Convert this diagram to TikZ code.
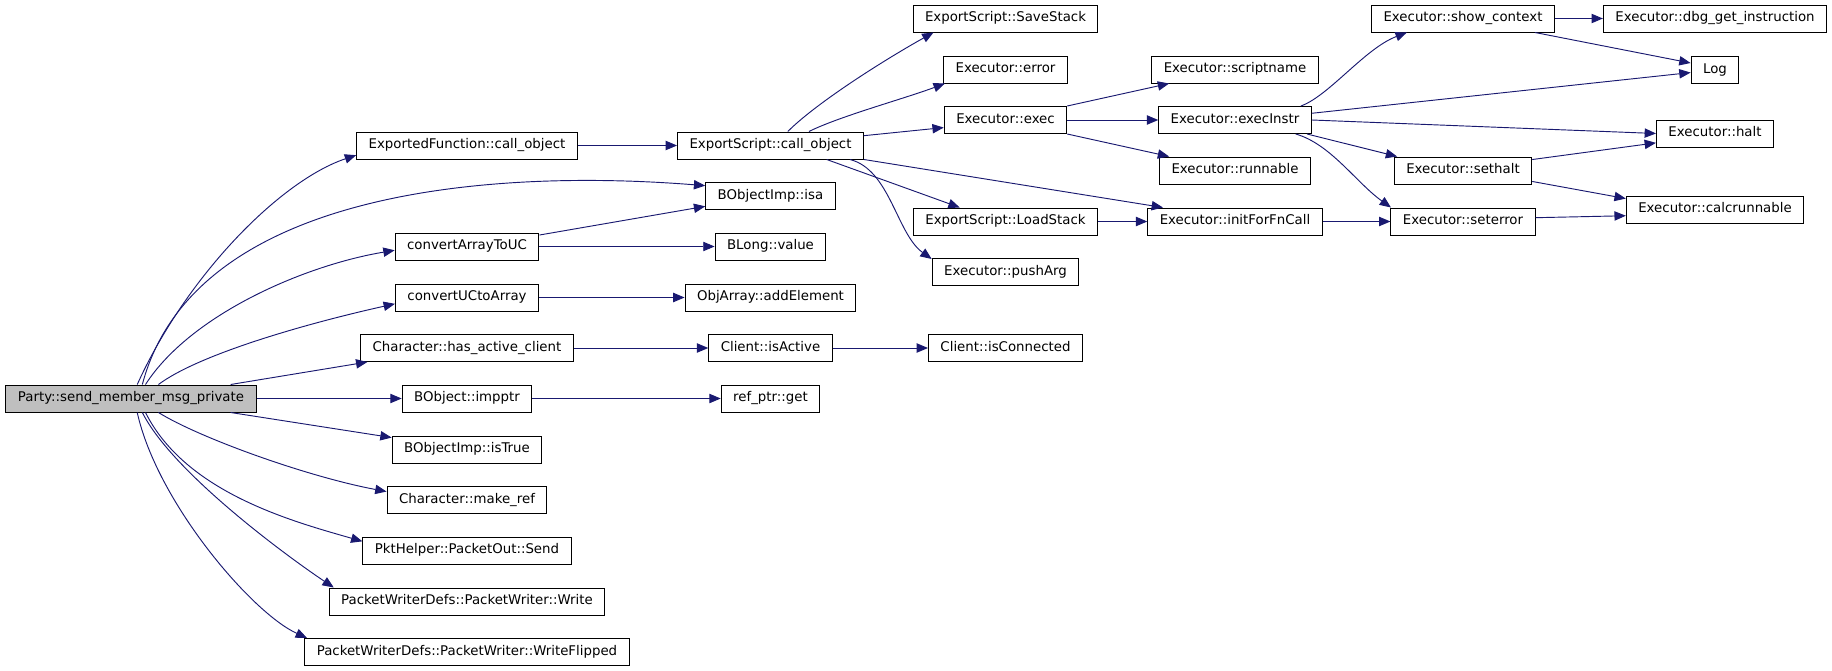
\documentclass[tikz,border=0pt]{standalone}
\usepackage{fontspec}
\setmainfont{DejaVu Sans}
\usetikzlibrary{arrows.meta}
\definecolor{callblue}{HTML}{191970}
\definecolor{rootgray}{HTML}{BFBFBF}

\begin{document}
\begin{tikzpicture}[x=0.75pt,y=0.75pt,yscale=-1,xscale=1,
    fnbox/.style={draw=black,line width=0.75pt,fill=white,inner xsep=9pt,inner ysep=0pt,
      minimum height=20.25pt,text height=7.4pt,text depth=2.2pt,font=\fontsize{10}{12}\selectfont},
    rootbox/.style={fnbox,fill=rootgray},
    calledge/.style={draw=callblue,line width=0.7pt,-{Triangle[length=8.5pt,width=7pt]}}]
    \useasboundingbox (0,0) rectangle (1832,671);

    % Text Node -- caller
    \node[rootbox] (party) at (131,398.5) {Party::send\_member\_msg\_private};
    % Text Node -- column 2
    \node[fnbox] (efco) at (467,145.5) {ExportedFunction::call\_object};
    \node[fnbox] (cnvA) at (467,246.5) {convertArrayToUC};
    \node[fnbox] (cnvU) at (467,297.5) {convertUCtoArray};
    \node[fnbox] (hac) at (467,348) {Character::has\_active\_client};
    \node[fnbox] (impptr) at (467,398.5) {BObject::impptr};
    \node[fnbox] (istrue) at (467,449.5) {BObjectImp::isTrue};
    \node[fnbox] (mkref) at (467,500) {Character::make\_ref};
    \node[fnbox] (send) at (467,550.5) {PktHelper::PacketOut::Send};
    \node[fnbox] (write) at (467,601.5) {PacketWriterDefs::PacketWriter::Write};
    \node[fnbox] (wflip) at (467,652) {PacketWriterDefs::PacketWriter::WriteFlipped};
    % Text Node -- column 3
    \node[fnbox] (esco) at (770.5,145.5) {ExportScript::call\_object};
    \node[fnbox] (isa) at (770.5,196) {BObjectImp::isa};
    \node[fnbox] (blong) at (770.5,246.5) {BLong::value};
    \node[fnbox] (addel) at (770.5,297.5) {ObjArray::addElement};
    \node[fnbox] (isact) at (770.5,348) {Client::isActive};
    \node[fnbox] (refget) at (770.5,398.5) {ref\_ptr::get};
    % Text Node -- column 4
    \node[fnbox] (save) at (1005.5,18.5) {ExportScript::SaveStack};
    \node[fnbox] (error) at (1005.5,69.5) {Executor::error};
    \node[fnbox] (exec) at (1005.5,120) {Executor::exec};
    \node[fnbox] (load) at (1005.5,221.5) {ExportScript::LoadStack};
    \node[fnbox] (push) at (1005.5,272) {Executor::pushArg};
    \node[fnbox] (iscon) at (1005.5,348) {Client::isConnected};
    % Text Node -- column 5
    \node[fnbox] (scriptname) at (1235,69.5) {Executor::scriptname};
    \node[fnbox] (execinstr) at (1235,120) {Executor::execInstr};
    \node[fnbox] (runnable) at (1235,170.5) {Executor::runnable};
    \node[fnbox] (initfn) at (1235,221.5) {Executor::initForFnCall};
    % Text Node -- column 6
    \node[fnbox] (show) at (1463,18.5) {Executor::show\_context};
    \node[fnbox] (sethalt) at (1463,170.5) {Executor::sethalt};
    \node[fnbox] (seterror) at (1463,221.5) {Executor::seterror};
    % Text Node -- column 7
    \node[fnbox] (dbg) at (1715,18.5) {Executor::dbg\_get\_instruction};
    \node[fnbox] (log) at (1715,70) {Log};
    \node[fnbox] (halt) at (1715,133.5) {Executor::halt};
    \node[fnbox] (calc) at (1715,209.5) {Executor::calcrunnable};

    %Curves -- calls out of the caller
    \draw[calledge] (party.66) .. controls +(50,-110) and +(-75,25) .. (efco.185);
    \draw[calledge] (party.51) .. controls +(50,-190) and +(-226,-18) .. (isa.171);
    \draw[calledge] (party.44) .. controls +(45,-70) and +(-90,15) .. (cnvA.183);
    \draw[calledge] (party.27) .. controls +(40,-30) and +(-90,20) .. (cnvU.185);
    \draw[calledge] (party.8) -- (hac.188);
    \draw[calledge] (party.east) -- (impptr.west);
    \draw[calledge] (party.352) -- (istrue.171);
    \draw[calledge] (party.333) .. controls +(40,25) and +(-80,-15) .. (mkref.174);
    \draw[calledge] (party.316) .. controls +(40,80) and +(-70,-20) .. (send.175);
    \draw[calledge] (party.309) .. controls +(30,60) and +(-45,-30) .. (write.174);
    \draw[calledge] (party.294) .. controls +(20,90) and +(-55,-25) .. (wflip.175);

    %Straight Lines -- column 2 to 3
    \draw[calledge] (efco.east) -- (esco.west);
    \draw[calledge] (cnvA.9) -- (isa.189);
    \draw[calledge] (cnvA.east) -- (blong.west);
    \draw[calledge] (cnvU.east) -- (addel.west);
    \draw[calledge] (hac.east) -- (isact.west);
    \draw[calledge] (impptr.east) -- (refget.west);
    \draw[calledge] (isact.east) -- (iscon.west);

    %Curves -- ExportScript::call_object
    \draw[calledge] (esco.39) .. controls +(30,-30) and +(-45,25) .. (save.191);
    \draw[calledge] (esco.20) .. controls +(30,-15) and +(-40,15) .. (error.193);
    \draw[calledge] (esco.6) -- (exec.187);
    \draw[calledge] (esco.346) -- (load.163);
    \draw[calledge] (esco.350) .. controls +(40,10) and +(-35,-25) .. (push.170);
    \draw[calledge] (esco.south east) -- (initfn.169);

    %Straight Lines -- Executor
    \draw[calledge] (exec.north east) -- (scriptname.192);
    \draw[calledge] (exec.east) -- (execinstr.west);
    \draw[calledge] (exec.south east) -- (runnable.168);
    \draw[calledge] (load.east) -- (initfn.west);
    \draw[calledge] (initfn.east) -- (seterror.west);
    \draw[calledge] (execinstr.12) .. controls +(28,-10) and +(-42,16) .. (show.194);
    \draw[calledge] (execinstr.5) -- (log.186);
    \draw[calledge] (execinstr.east) -- (halt.west);
    \draw[calledge] (execinstr.349) -- (sethalt.168);
    \draw[calledge] (execinstr.347) .. controls +(35,10) and +(-35,-25) .. (seterror.169);
    \draw[calledge] (show.east) -- (dbg.west);
    \draw[calledge] (show.349) -- (log.164);
    \draw[calledge] (sethalt.9) -- (halt.189);
    \draw[calledge] (sethalt.351) -- (calc.173);
    \draw[calledge] (seterror.3) -- (calc.184);
\end{tikzpicture}
\end{document}
